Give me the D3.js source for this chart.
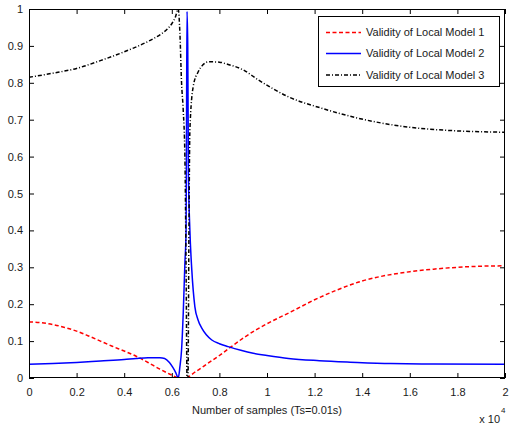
<!DOCTYPE html>
<html><head><meta charset="utf-8">
<script src="https://cdn.jsdelivr.net/npm/d3@7"></script>
<style>
html,body{margin:0;padding:0;background:#fff;}
svg{display:block;font-family:"Liberation Sans",Arial,sans-serif;}
</style></head>
<body>
<svg id="chart" width="515" height="428"></svg>
<script>
// Data (x in units of 10^4 samples)
const redX = [0, 0.05, 0.1, 0.15, 0.2, 0.25, 0.3, 0.35, 0.4, 0.45, 0.5, 0.55, 0.6, 0.63, 0.655, 0.7, 0.75, 0.8, 0.85, 0.9, 0.95, 1.0, 1.1, 1.2, 1.3, 1.4, 1.5, 1.6, 1.7, 1.8, 1.9, 2.0];
const redY = [0.152, 0.150, 0.145, 0.137, 0.127, 0.114, 0.100, 0.086, 0.073, 0.059, 0.042, 0.024, 0.008, 0.0, 0.0, 0.017, 0.039, 0.061, 0.085, 0.108, 0.129, 0.147, 0.179, 0.212, 0.240, 0.263, 0.278, 0.288, 0.295, 0.300, 0.303, 0.304];

const blueX = [0, 0.1, 0.2, 0.3, 0.4, 0.45, 0.5, 0.55, 0.57, 0.59, 0.605, 0.617, 0.627, 0.634, 0.641, 0.648, 0.655, 0.66, 0.662, 0.664, 0.667, 0.67, 0.676, 0.684, 0.697, 0.71, 0.726, 0.745, 0.768, 0.8, 0.837, 0.89, 0.942, 1.0, 1.09, 1.22, 1.35, 1.52, 1.7, 2.0];
const blueY = [0.037, 0.039, 0.042, 0.046, 0.05, 0.053, 0.055, 0.055, 0.053, 0.042, 0.028, 0.014, 0.0, 0.03, 0.076, 0.175, 0.31, 0.40, 0.7, 0.993, 0.9, 0.55, 0.40, 0.293, 0.193, 0.158, 0.135, 0.117, 0.103, 0.093, 0.085, 0.075, 0.067, 0.061, 0.053, 0.047, 0.043, 0.039, 0.038, 0.037];

const blackX = [0, 0.1, 0.2, 0.3, 0.4, 0.5, 0.55, 0.58, 0.6, 0.615, 0.627, 0.634, 0.641, 0.648, 0.655, 0.66, 0.664, 0.668, 0.672, 0.676, 0.69, 0.711, 0.73, 0.753, 0.8, 0.83, 0.9, 0.963, 1.09, 1.23, 1.37, 1.58, 1.79, 2.0];
const blackY = [0.815, 0.826, 0.839, 0.86, 0.884, 0.912, 0.93, 0.945, 0.96, 0.978, 1.0, 0.935, 0.80, 0.726, 0.6, 0.3, 0.0, 0.0, 0.4, 0.672, 0.79, 0.83, 0.848, 0.857, 0.856, 0.851, 0.835, 0.808, 0.762, 0.731, 0.706, 0.681, 0.670, 0.666];

const xTicks = [0, 0.2, 0.4, 0.6, 0.8, 1, 1.2, 1.4, 1.6, 1.8, 2];
const yTicks = [0, 0.1, 0.2, 0.3, 0.4, 0.5, 0.6, 0.7, 0.8, 0.9, 1];
const legendLabels = ["Validity of Local Model 1", "Validity of Local Model 2", "Validity of Local Model 3"];
const xLabel = "Number of samples (Ts=0.01s)";

const svg = d3.select("#chart");
const L = 29, R = 505, T = 9, B = 378;
const x = d3.scaleLinear().domain([0, 2]).range([L, R]);
const y = d3.scaleLinear().domain([0, 1]).range([B, T]);

svg.append("defs").append("clipPath").attr("id", "clip")
  .append("rect").attr("x", L).attr("y", T).attr("width", R - L).attr("height", B - T);

const fmt = d => (d === 0 ? "0" : d3.format("~g")(d));

// axes
const gx = svg.append("g").attr("transform", `translate(0,${B})`)
  .call(d3.axisBottom(x).tickValues(xTicks).tickFormat(fmt).tickSize(-5).tickPadding(10).tickSizeOuter(0));
const gxt = svg.append("g").attr("transform", `translate(0,${T})`)
  .call(d3.axisTop(x).tickValues(xTicks).tickFormat("").tickSize(-5).tickSizeOuter(0));
const gy = svg.append("g").attr("transform", `translate(${L},0)`)
  .call(d3.axisLeft(y).tickValues(yTicks).tickFormat(fmt).tickSize(-5).tickPadding(6).tickSizeOuter(0));
const gyr = svg.append("g").attr("transform", `translate(${R},0)`)
  .call(d3.axisRight(y).tickValues(yTicks).tickFormat("").tickSize(-5).tickSizeOuter(0));
[gx, gxt, gy, gyr].forEach(g => {
  g.select(".domain").remove();
  g.selectAll("line").attr("stroke", "#000");
  g.selectAll("text").attr("fill", "#1a1a1a").style("font-size", "11px").style("font-family", "'Liberation Sans', Arial, sans-serif");
});

// lines
const plot = svg.append("g").attr("clip-path", "url(#clip)");
const line = d3.line().curve(d3.curveMonotoneX).x(d => x(d[0])).y(d => y(d[1]));
const series = [
  {xs: redX, ys: redY, color: "#ff0000", dash: "4,2.5"},
  {xs: blueX, ys: blueY, color: "#0000ff", dash: null},
  {xs: blackX, ys: blackY, color: "#000000", dash: "4,2,1,2"}
];
series.forEach(s => {
  plot.append("path").datum(s.xs.map((v, i) => [v, s.ys[i]]))
    .attr("d", line).attr("fill", "none").attr("stroke", s.color)
    .attr("stroke-width", 1.5).attr("stroke-dasharray", s.dash);
});

// frame
svg.append("rect").attr("x", L + 0.5).attr("y", T + 0.5).attr("width", R - L - 1).attr("height", B - T - 1)
  .attr("fill", "none").attr("stroke", "#000").attr("stroke-width", 1);

// legend
const lg = svg.append("g");
lg.append("rect").attr("x", 318.5).attr("y", 16.5).attr("width", 181).attr("height", 70)
  .attr("fill", "#fff").attr("stroke", "#000").attr("stroke-width", 1);
const rowsY = [32.5, 53.5, 75];
series.forEach((s, i) => {
  lg.append("line").attr("x1", 326).attr("x2", 361).attr("y1", rowsY[i]).attr("y2", rowsY[i])
    .attr("stroke", s.color).attr("stroke-width", 1.5).attr("stroke-dasharray", s.dash);
  lg.append("text").attr("x", 366).attr("y", rowsY[i]).attr("dy", "0.35em")
    .attr("fill", "#1a1a1a").style("font-size", "11px").text(legendLabels[i]);
});

// labels
svg.append("text").attr("x", (L + R) / 2).attr("y", 414).attr("text-anchor", "middle")
  .attr("fill", "#1a1a1a").style("font-size", "11px").text(xLabel);
svg.append("text").attr("x", 500).attr("y", 423).attr("text-anchor", "end")
  .attr("fill", "#1a1a1a").style("font-size", "11px").text("x 10");
svg.append("text").attr("x", 501).attr("y", 413).attr("fill", "#1a1a1a").style("font-size", "8px").text("4");
</script>
</body></html>
